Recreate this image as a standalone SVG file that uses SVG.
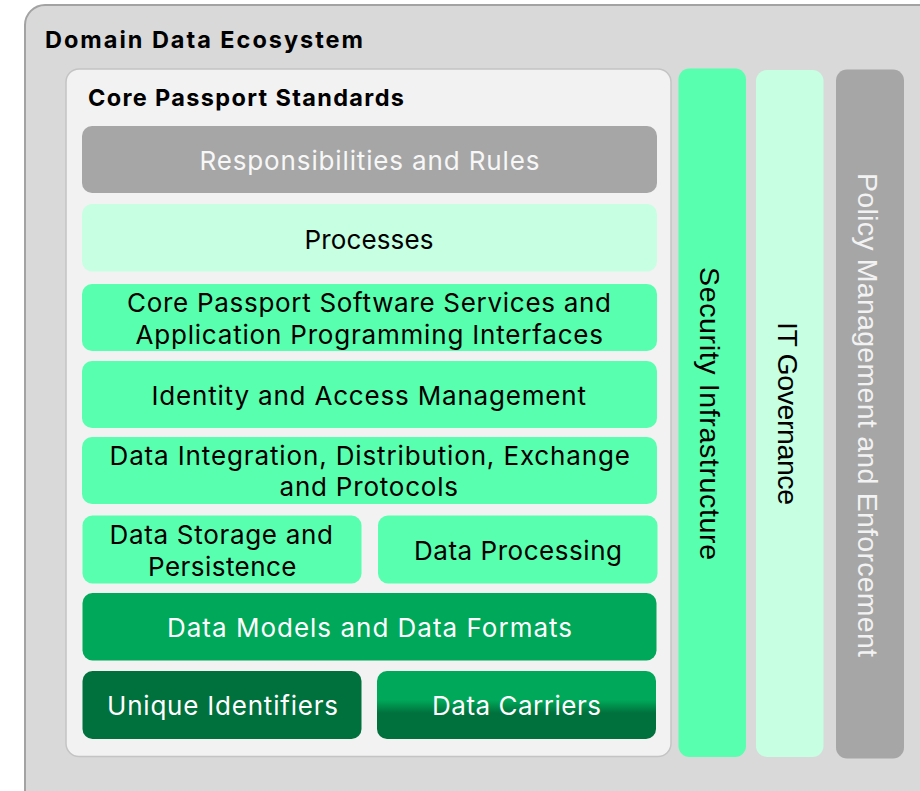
<svg xmlns="http://www.w3.org/2000/svg" width="920" height="791" viewBox="0 0 920 791">
<defs>
<linearGradient id="gCarrier" x1="0" y1="0" x2="0" y2="1">
<stop offset="0.43" stop-color="#00a859"/>
<stop offset="0.62" stop-color="#00703c"/>
</linearGradient>
<style>
.t{font-family:Inter,"Liberation Sans",sans-serif;font-size:26px;}
.h{font-family:Inter,"Liberation Sans",sans-serif;font-size:23.5px;font-weight:700;fill:#000;}
.v{font-family:"Liberation Sans",Arial,sans-serif;font-size:28.5px;}
.dk{fill:#000;}
.wh{fill:#ffffff;}
.gray{fill:#a6a6a6;}
.mint{fill:#c6ffe2;}
.green{fill:#57ffae;}
.mid{fill:#00a859;}
.dark{fill:#00703c;}
</style>
</defs>

<g id="domain-data-ecosystem">
<rect x="25" y="5" width="920" height="820" rx="20" fill="#d9d9d9" stroke="#a3a3a3" stroke-width="2"/>
<text class="h" x="45" y="48" textLength="318">Domain Data Ecosystem</text>
</g>

<g id="core-passport-standards">
<rect x="66" y="69" width="605" height="687.5" rx="13" fill="#f2f2f2" stroke="#c4c4c4" stroke-width="1.5"/>
<text class="h" x="88" y="106" textLength="316">Core Passport Standards</text>
</g>

<g id="responsibilities">
<rect class="gray" x="82" y="126" width="575" height="67" rx="10"/>
<text class="t" x="199.5" y="170" textLength="340" fill="#f7f7f7">Responsibilities and Rules</text>
</g>

<g id="processes">
<rect class="mint" x="82" y="204" width="575" height="67.5" rx="10"/>
<text class="t dk" x="304.5" y="249" textLength="129">Processes</text>
</g>

<g id="software-services">
<rect class="green" x="82" y="284" width="575" height="67" rx="10"/>
<text class="t dk" x="127" y="312" textLength="484">Core Passport Software Services and</text>
<text class="t dk" x="135.5" y="344" textLength="467.5">Application Programming Interfaces</text>
</g>

<g id="identity-access">
<rect class="green" x="82" y="361" width="575" height="67" rx="10"/>
<text class="t dk" x="151.5" y="405" textLength="434.5">Identity and Access Management</text>
</g>

<g id="data-integration">
<rect class="green" x="82" y="437" width="575" height="67" rx="10"/>
<text class="t dk" x="109.5" y="465" textLength="520.5">Data Integration, Distribution, Exchange</text>
<text class="t dk" x="279.5" y="496" textLength="178.5">and Protocols</text>
</g>

<g id="data-storage">
<rect class="green" x="82.5" y="515.5" width="279" height="68" rx="10"/>
<text class="t dk" x="109.5" y="543.5" textLength="223.5">Data Storage and</text>
<text class="t dk" x="148" y="575.5" textLength="148.5">Persistence</text>
</g>

<g id="data-processing">
<rect class="green" x="378" y="515.5" width="279.5" height="68" rx="10"/>
<text class="t dk" x="414" y="559.5" textLength="208">Data Processing</text>
</g>

<g id="data-models">
<rect class="mid" x="82.5" y="593" width="574" height="67.5" rx="10"/>
<text class="t wh" x="167" y="637" textLength="405">Data Models and Data Formats</text>
</g>

<g id="unique-identifiers">
<rect class="dark" x="82.5" y="671" width="279" height="68" rx="10"/>
<text class="t wh" x="107" y="715" textLength="231">Unique Identifiers</text>
</g>

<g id="data-carriers">
<rect x="377" y="671" width="279" height="68" rx="10" fill="url(#gCarrier)"/>
<text class="t wh" x="432" y="715" textLength="169">Data Carriers</text>
</g>

<g id="security-infrastructure">
<rect class="green" x="678.5" y="68.5" width="67.5" height="688.5" rx="11"/>
<text class="v dk" transform="translate(700,267) rotate(90)" textLength="293">Security Infrastructure</text>
</g>

<g id="it-governance">
<rect class="mint" x="756" y="70" width="67.5" height="687" rx="11"/>
<text class="v dk" transform="translate(778,322) rotate(90)" textLength="183">IT Governance</text>
</g>

<g id="policy-management">
<rect class="gray" x="836" y="69.5" width="68" height="689" rx="11"/>
<text class="v" transform="translate(858,173) rotate(90)" textLength="484" fill="#f2f2f2">Policy Management and Enforcement</text>
</g>

<g id="connectors"></g>
</svg>
